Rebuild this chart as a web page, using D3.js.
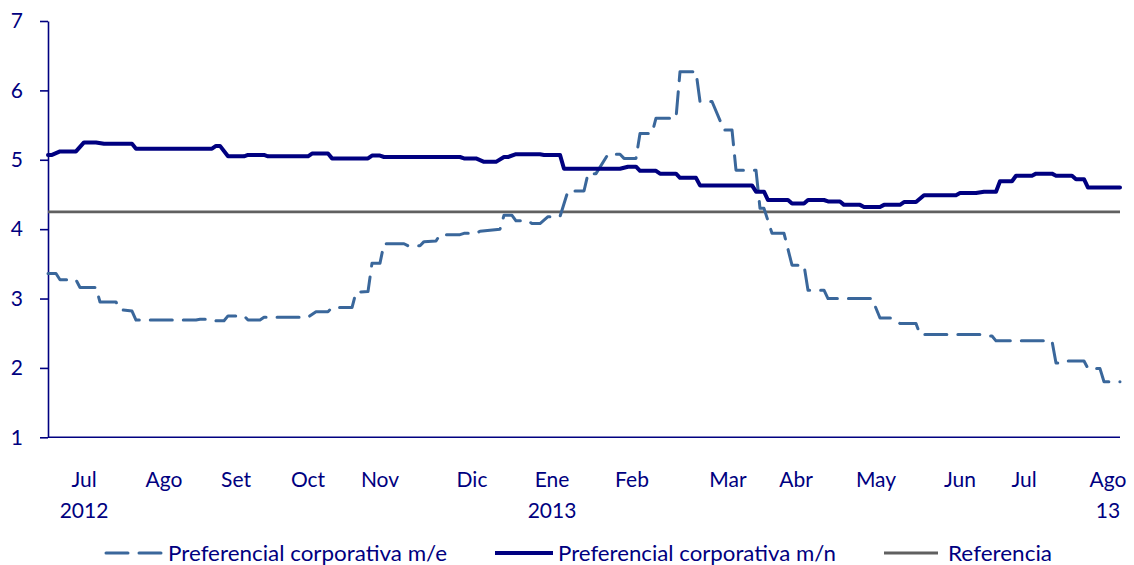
<!DOCTYPE html>
<html>
<head>
<meta charset="utf-8">
<script src="https://cdn.jsdelivr.net/npm/d3@7"></script>
<style>
  html, body { margin: 0; padding: 0; background: #ffffff; }
  svg { display: block; font-family: Lato, "Open Sans", sans-serif; }
</style>
</head>
<body>
<svg id="chart" width="1134" height="565"></svg>
<script>
// ---- data (trading-day index, rate in %) ----
const mnDays = [0,1,3,7,9,12,14,21,22,41,42,43,45,49,50,54,55,65,66,70,71,80,81,83,84,103,104,107,109,112,114,115,117,123,124,128,129,143,145,147,148,152,153,157,158,162,163,176,177,179,180,185,186,189,190,194,195,198,199,203,204,208,209,213,214,217,219,227,228,232,234,237,238,241,242,246,247,251,252,256,257,259,260,268];
const mnRates = [5.07,5.07,5.12,5.12,5.25,5.25,5.23,5.23,5.16,5.16,5.20,5.20,5.05,5.05,5.07,5.07,5.05,5.05,5.09,5.09,5.02,5.02,5.06,5.06,5.04,5.04,5.02,5.02,4.97,4.97,5.04,5.04,5.08,5.08,5.07,5.07,4.87,4.87,4.90,4.90,4.84,4.84,4.80,4.80,4.74,4.74,4.63,4.63,4.54,4.54,4.42,4.42,4.37,4.37,4.42,4.42,4.40,4.40,4.35,4.35,4.32,4.32,4.35,4.35,4.39,4.39,4.49,4.49,4.52,4.52,4.54,4.54,4.69,4.69,4.77,4.77,4.80,4.80,4.77,4.77,4.72,4.72,4.60,4.60];

const meDays = [0,2,3,7,8,12,13,17,18,21,22,37,38,41,42,44,45,49,50,53,54,65,67,70,71,76,77,80,81,83,84,89,90,93,94,97,98,103,104,107,108,113,114,116,117,120,121,123,125,128,130,134,135,137,140,143,144,147,148,151,152,157,158,162,163,166,169,171,172,177,178,179,181,184,186,189,190,194,195,206,208,211,213,217,218,233,234,236,237,251,252,254,255,259,260,263,264,268];
const meRates = [3.36,3.36,3.27,3.27,3.16,3.16,2.95,2.95,2.84,2.82,2.69,2.69,2.70,2.70,2.68,2.68,2.75,2.75,2.69,2.69,2.73,2.73,2.81,2.81,2.87,2.87,3.09,3.10,3.51,3.51,3.79,3.79,3.76,3.76,3.82,3.83,3.92,3.92,3.94,3.94,3.97,4.00,4.20,4.20,4.12,4.12,4.08,4.08,4.18,4.18,4.55,4.55,4.80,4.80,5.08,5.08,5.02,5.02,5.38,5.38,5.60,5.60,6.27,6.27,5.84,5.84,5.43,5.43,4.85,4.85,4.30,4.30,3.94,3.94,3.48,3.48,3.12,3.12,3.00,3.00,2.72,2.72,2.64,2.64,2.48,2.48,2.46,2.46,2.39,2.39,2.07,2.07,2.10,2.10,1.99,1.99,1.80,1.80];

const refRate = 4.25;
const firstDay = 0, lastDay = 268;

const monthLabels = ["Jul","Ago","Set","Oct","Nov","Dic","Ene","Feb","Mar","Abr","May","Jun","Jul","Ago"];
const monthLabelDays = [9,29,47,65,83,106,126,146,170,187,207,228,244,265];
const yearLabels = ["2012","2013","13"];
const yearLabelDays = [9,126,265];
const yTicks = [1,2,3,4,5,6,7];
const seriesNames = ["Preferencial corporativa m/e","Preferencial corporativa m/n","Referencia"];

// ---- drawing ----
const navy = "#000080";
const meColor = "#3a679b";
const refColor = "#606060";

const svg = d3.select("#chart");
const x = d3.scaleLinear().domain([firstDay, lastDay]).range([48, 1120]);
const y = d3.scaleLinear().domain([1, 7]).range([437.3, 21]);

// y axis
const yAxis = d3.axisLeft(y).tickValues(yTicks).tickSize(8).tickSizeOuter(0).tickPadding(17).tickFormat(d3.format("d"));
const gy = svg.append("g").attr("transform", "translate(48,0)").call(yAxis);
gy.select(".domain").attr("stroke", navy).attr("stroke-width", 1.6);
gy.selectAll(".tick line").attr("stroke", navy).attr("stroke-width", 1.6);
gy.selectAll(".tick text").attr("fill", navy).style("font-size", "21px").style("font-family", "Lato, sans-serif");

// x axis baseline
svg.append("line")
  .attr("x1", x(firstDay)).attr("x2", x(lastDay))
  .attr("y1", y(1)).attr("y2", y(1))
  .attr("stroke", navy).attr("stroke-width", 1.6);

// x labels
const gx = svg.append("g").attr("fill", navy).style("font-size", "21px").attr("text-anchor", "middle");
gx.selectAll("text.m").data(monthLabels).join("text").attr("class", "m")
  .attr("x", (d, i) => x(monthLabelDays[i])).attr("y", 487).text(d => d);
gx.selectAll("text.yr").data(yearLabels).join("text").attr("class", "yr")
  .attr("x", (d, i) => x(yearLabelDays[i])).attr("y", 518).text(d => d);

// reference line
svg.append("line")
  .attr("x1", x(firstDay)).attr("x2", x(lastDay))
  .attr("y1", y(refRate)).attr("y2", y(refRate))
  .attr("stroke", refColor).attr("stroke-width", 2.8);

const line = d3.line().x(d => x(d[0])).y(d => y(d[1]));

// m/e dashed
svg.append("path")
  .datum(meDays.map((d, i) => [d, meRates[i]]))
  .attr("d", line).attr("fill", "none")
  .attr("stroke", meColor).attr("stroke-width", 3)
  .attr("stroke-dasharray", "22,11").attr("stroke-linecap", "round").attr("stroke-linejoin", "round");

// m/n solid
svg.append("path")
  .datum(mnDays.map((d, i) => [d, mnRates[i]]))
  .attr("d", line).attr("fill", "none")
  .attr("stroke", navy).attr("stroke-width", 4)
  .attr("stroke-linejoin", "round").attr("stroke-linecap", "round");

// legend
const legY = 553;
const leg = svg.append("g");
const legItems = [
  {x1: 106, x2: 163, tx: 168, tl: 279, color: meColor, w: 3, dash: "22,11"},
  {x1: 495, x2: 553, tx: 558, tl: 278, color: navy, w: 4, dash: null},
  {x1: 884, x2: 938, tx: 948, tl: 104, color: refColor, w: 2.8, dash: null}
];
legItems.forEach((it, i) => {
  const l = leg.append("line").attr("x1", it.x1).attr("x2", it.x2).attr("y1", legY).attr("y2", legY)
    .attr("stroke", it.color).attr("stroke-width", it.w).attr("stroke-linecap", it.dash ? "round" : "butt");
  if (it.dash) l.attr("stroke-dasharray", it.dash);
  leg.append("text").attr("x", it.tx).attr("y", legY + 7.5).attr("fill", navy)
    .style("font-size", "21px").attr("textLength", it.tl).attr("lengthAdjust", "spacingAndGlyphs")
    .text(seriesNames[i]);
});
</script>
</body>
</html>
